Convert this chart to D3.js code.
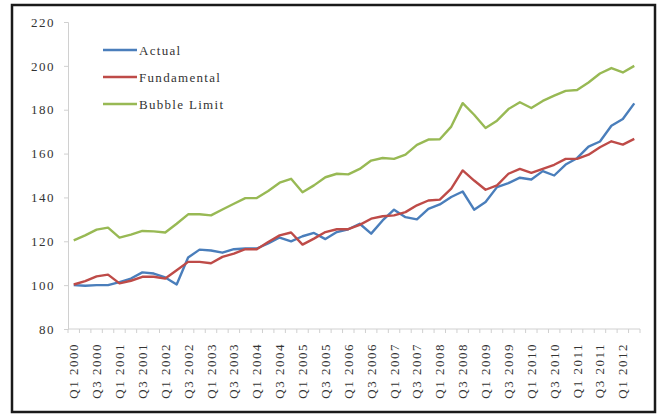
<!DOCTYPE html>
<html>
<head>
<meta charset="utf-8">
<script src="https://cdn.jsdelivr.net/npm/d3@7"></script>
<style>
  body { margin: 0; background: #fff; }
  svg { display: block; }
  text { font-family: "Liberation Serif", "Times New Roman", "DejaVu Serif", serif; }
</style>
</head>
<body>
<svg id="chart" width="659" height="415"></svg>
<script>
// quarters Q1 2000 .. Q2 2012
const years = d3.range(2000, 2013);
const quarters = [];
years.forEach(y => ["Q1", "Q2", "Q3", "Q4"].forEach(q => quarters.push(q + " " + y)));
quarters.splice(50);

const actual = [100, 99.7, 100, 100, 101.4, 103, 105.8, 105.3, 103.5, 100.3,
  112.6, 116.2, 115.8, 114.8, 116.4, 116.7, 116.7, 119, 121.7, 120,
  122.3, 123.8, 121, 124.2, 125.5, 128, 123.5, 129.5, 134.4, 131,
  130, 134.8, 136.8, 140.2, 142.7, 134.4, 137.9, 144.7, 146.5, 149,
  148.2, 152, 150, 155, 157.9, 163.2, 165.5, 172.7, 175.8, 182.9];

const fundamental = [100.3, 101.8, 104, 104.8, 100.8, 102, 103.8, 103.8, 103, 106.8,
  110.6, 110.6, 110, 112.9, 114.4, 116.4, 116.4, 119.7, 122.7, 124,
  118.5, 121.2, 124.2, 125.5, 125.5, 127.5, 130.3, 131.4, 131.8, 133.3,
  136.4, 138.6, 139, 144, 152.3, 147.7, 143.5, 145.5, 150.8, 153,
  151.2, 153, 154.9, 157.6, 157.6, 159.5, 162.9, 165.6, 164.1, 166.7];

const bubbleLimit = [120.4, 122.7, 125.3, 126.2, 121.7, 123, 124.7, 124.5, 124, 128,
  132.3, 132.3, 131.8, 134.5, 137.1, 139.7, 139.7, 142.9, 146.7, 148.5,
  142.4, 145.5, 149.2, 150.8, 150.5, 153, 156.8, 158, 157.6, 159.5,
  164, 166.4, 166.5, 172.3, 183, 177.7, 171.7, 175, 180.3, 183.4,
  180.8, 184, 186.4, 188.6, 189, 192.4, 196.5, 199, 197, 200];

const yTicks = [80, 100, 120, 140, 160, 180, 200, 220];

const series = [
  { name: "Actual", values: actual, color: "#4a7ebb" },
  { name: "Fundamental", values: fundamental, color: "#be4b48" },
  { name: "Bubble Limit", values: bubbleLimit, color: "#98b954" }
];

const FONT = "Liberation Serif, Times New Roman, DejaVu Serif, serif";

const svg = d3.select("#chart");
const margin = { left: 68, right: 19, top: 22, bottom: 86 };
const width = 659 - margin.left - margin.right;
const height = 415 - margin.top - margin.bottom;

// outer frame
svg.append("rect")
  .attr("x", 12).attr("y", 5)
  .attr("width", 643).attr("height", 407)
  .attr("fill", "#fff")
  .attr("stroke", "#1a1a1a")
  .attr("stroke-width", 2.5);

const g = svg.append("g").attr("transform", `translate(${margin.left},${margin.top})`);

const x = d3.scaleBand().domain(quarters).range([0, width]);
const y = d3.scaleLinear().domain([80, 220]).range([height, 0]);

// y axis
const yAxis = g.append("g")
  .call(d3.axisLeft(y).tickValues(yTicks).tickSize(4).tickPadding(9));
yAxis.attr("font-family", FONT);
yAxis.select(".domain").attr("stroke", "#d0d0d0");
yAxis.selectAll(".tick line").attr("stroke", "#d0d0d0");
yAxis.selectAll(".tick text")
  .attr("fill", "#333")
  .style("font-size", "13px")
  .style("letter-spacing", "1.5px");

// x axis
const xAxisG = g.append("g").attr("transform", `translate(0,${height})`);
xAxisG.append("line")
  .attr("x1", 0).attr("x2", width)
  .attr("stroke", "#d0d0d0");
xAxisG.selectAll(".xtick")
  .data(d3.range(quarters.length + 1))
  .join("line")
  .attr("class", "xtick")
  .attr("x1", i => i * x.step()).attr("x2", i => i * x.step())
  .attr("y1", 0).attr("y2", 4)
  .attr("stroke", "#d0d0d0");
xAxisG.selectAll(".xlabel")
  .data(quarters.filter((q, i) => i % 2 === 0))
  .join("text")
  .attr("class", "xlabel")
  .attr("transform", d => `translate(${x(d) + x.bandwidth() / 2 + 4.5},14) rotate(-90)`)
  .attr("text-anchor", "end")
  .attr("fill", "#333")
  .style("font-size", "13px")
  .style("letter-spacing", "1.5px")
  .text(d => d);

// lines
const line = d3.line()
  .x((d, i) => x(quarters[i]) + x.bandwidth() / 2)
  .y(d => y(d));

g.selectAll(".series")
  .data(series)
  .join("path")
  .attr("class", "series")
  .attr("fill", "none")
  .attr("stroke", d => d.color)
  .attr("stroke-width", 2.4)
  .attr("stroke-linejoin", "round")
  .attr("d", d => line(d.values));

// legend
const legend = svg.append("g").attr("transform", "translate(103,50)");
series.forEach((s, i) => {
  const row = legend.append("g").attr("transform", `translate(0,${i * 27})`);
  row.append("line")
    .attr("x1", 0).attr("x2", 34)
    .attr("stroke", s.color).attr("stroke-width", 2.4);
  row.append("text")
    .attr("x", 36).attr("y", 4.5)
    .attr("fill", "#333")
    .style("font-size", "13px")
    .style("letter-spacing", "1.3px")
    .text(s.name);
});
</script>
</body>
</html>
